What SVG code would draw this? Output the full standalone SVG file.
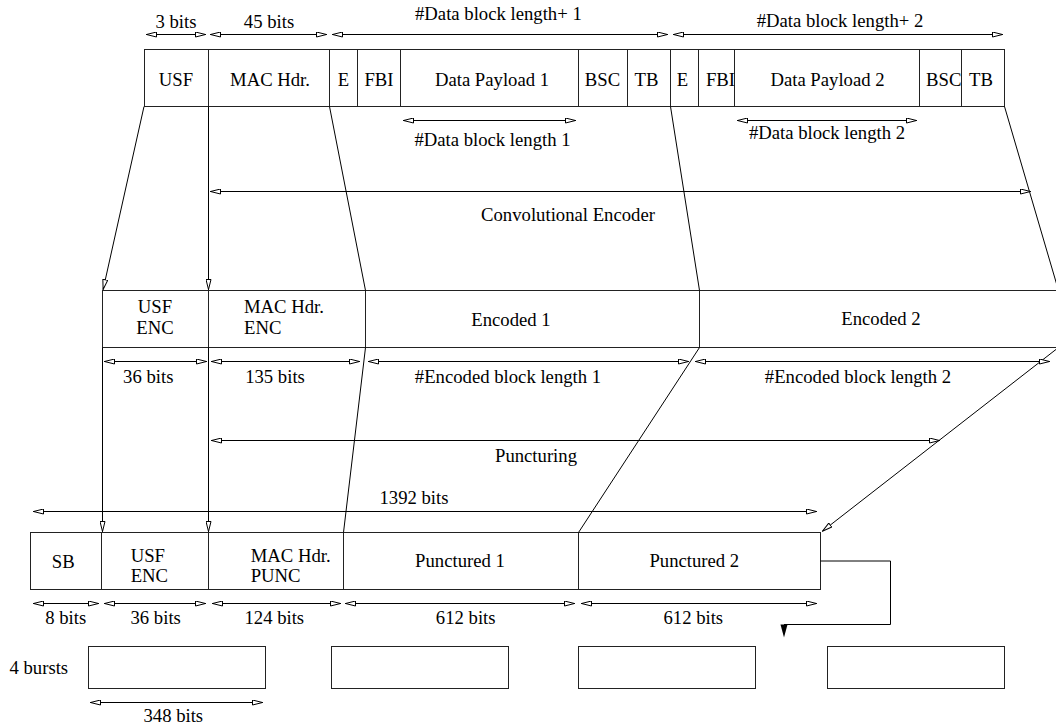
<svg xmlns="http://www.w3.org/2000/svg" width="1056" height="726" viewBox="0 0 1056 726">
<style>
text{font-family:"Liberation Serif","Times New Roman",serif;font-size:18.7px;fill:#000}
.c{text-anchor:middle}
.box{fill:#fff;stroke:#222;stroke-width:1}
.div{stroke:#222;stroke-width:1;fill:none}
.ln{stroke:#000;stroke-width:1;fill:none}
.dim{stroke:#000;stroke-width:1;fill:none;marker-start:url(#ah);marker-end:url(#ah)}
.arr{stroke:#000;stroke-width:1;fill:none;marker-end:url(#ah)}
</style>
<defs>
<marker id="ah" viewBox="0 0 11 6" refX="11" refY="3" markerWidth="11" markerHeight="6" markerUnits="userSpaceOnUse" orient="auto-start-reverse">
<path d="M0.5,0.5 L10.5,3 L0.5,5.5 Z" fill="#fff" stroke="#000" stroke-width="1"/>
</marker>
</defs>
<rect width="1056" height="726" fill="#fff"/>

<g id="top-row">
<rect class="box" x="144.5" y="49.5" width="860" height="57"/>
<path class="div" d="M208.5,49.5V106.5M329.5,49.5V106.5M357.5,49.5V106.5M400.5,49.5V106.5M578.5,49.5V106.5M627.5,49.5V106.5M670.5,49.5V106.5M698.5,49.5V106.5M734.5,49.5V106.5M919.5,49.5V106.5M961.5,49.5V106.5"/>
<text class="c" x="176" y="85.5">USF</text>
<text class="c" x="270" y="85.5">MAC Hdr.</text>
<text class="c" x="343.5" y="85.5">E</text>
<text class="c" x="379" y="85.5">FBI</text>
<text class="c" x="492" y="85.5">Data Payload 1</text>
<text class="c" x="602.5" y="85.5">BSC</text>
<text class="c" x="646.5" y="85.5">TB</text>
<text class="c" x="682.5" y="85.5">E</text>
<text class="c" x="720.5" y="85.5">FBI</text>
<text class="c" x="827.5" y="85.5">Data Payload 2</text>
<text class="c" x="943.7" y="85.5">BSC</text>
<text class="c" x="981" y="85.5">TB</text>
</g>

<g id="middle-row">
<rect class="box" x="102.5" y="290.5" width="956" height="57"/>
<path class="div" d="M208.5,290.5V347.5M365.5,290.5V347.5M699.5,290.5V347.5"/>
<text class="c" x="155" y="313">USF</text>
<text class="c" x="155" y="334">ENC</text>
<text x="244" y="313">MAC Hdr.</text>
<text x="244" y="334">ENC</text>
<text class="c" x="511" y="326">Encoded 1</text>
<text class="c" x="881" y="325">Encoded 2</text>
</g>

<g id="bottom-row">
<rect class="box" x="30.5" y="532.5" width="790" height="57"/>
<path class="div" d="M101.5,532.5V589.5M208.5,532.5V589.5M343.5,532.5V589.5M578.5,532.5V589.5"/>
<text class="c" x="63.3" y="568">SB</text>
<text x="130.7" y="561.7">USF</text>
<text x="130.7" y="582.3">ENC</text>
<text x="250.7" y="561.7">MAC Hdr.</text>
<text x="250.7" y="582.3">PUNC</text>
<text class="c" x="460" y="567.3">Punctured 1</text>
<text class="c" x="694.3" y="567.3">Punctured 2</text>
</g>

<g id="bursts">
<text class="c" x="38.8" y="674">4 bursts</text>
<rect class="box" x="88.5" y="646.5" width="177" height="42"/>
<rect class="box" x="331.5" y="646.5" width="177" height="42"/>
<rect class="box" x="578.5" y="646.5" width="177" height="42"/>
<rect class="box" x="827.5" y="646.5" width="177" height="42"/>
</g>

<g id="connectors">
<path class="arr" d="M144,106.5L103,290"/>
<path class="arr" d="M208.5,106.5V290"/>
<path class="ln" d="M329.5,106.5L365.5,290.5"/>
<path class="ln" d="M670.5,106.5L699.5,290.5"/>
<path class="ln" d="M1004.5,106.5L1058.5,290.5"/>
<path class="arr" d="M102.5,347.5V532"/>
<path class="arr" d="M208.5,347.5V532"/>
<path class="ln" d="M365.5,347.5L343.5,532.5"/>
<path class="ln" d="M699.5,347.5L578.5,532.5"/>
<path class="arr" d="M1058.5,347.5L822,531.5"/>
<path class="ln" d="M820.5,561H890.5V624.5H784"/>
<path d="M780.5,624.5H787.5L784,637.5Z" fill="#000"/>
</g>

<g id="dimensions">
<path class="dim" d="M146,34.5H206"/>
<path class="dim" d="M210,34.5H327"/>
<path class="dim" d="M332,34.5H668"/>
<path class="dim" d="M673,34.5H1003"/>
<path class="dim" d="M403,120.5H576"/>
<path class="dim" d="M737,120.5H917"/>
<path class="dim" d="M210,191.5H1031"/>
<path class="dim" d="M104,361.5H207"/>
<path class="dim" d="M211,361.5H360"/>
<path class="dim" d="M368,361.5H689"/>
<path class="dim" d="M695,361.5H1050"/>
<path class="dim" d="M211,440.5H940"/>
<path class="dim" d="M33,511.5H817"/>
<path class="dim" d="M33,603.5H99"/>
<path class="dim" d="M104,603.5H206"/>
<path class="dim" d="M212,603.5H341"/>
<path class="dim" d="M345,603.5H575"/>
<path class="dim" d="M581,603.5H817"/>
<path class="dim" d="M90,702.5H263"/>
<text class="c" x="176" y="28">3 bits</text>
<text class="c" x="269" y="28">45 bits</text>
<text class="c" x="498.4" y="20">#Data block length+ 1</text>
<text class="c" x="840" y="27">#Data block length+ 2</text>
<text class="c" x="492.5" y="146">#Data block length 1</text>
<text class="c" x="827" y="139">#Data block length 2</text>
<text class="c" x="568" y="221">Convolutional Encoder</text>
<text class="c" x="148.3" y="382.5">36 bits</text>
<text class="c" x="275" y="382.5">135 bits</text>
<text class="c" x="508" y="382.5">#Encoded block length 1</text>
<text class="c" x="858" y="382.5">#Encoded block length 2</text>
<text class="c" x="536" y="462">Puncturing</text>
<text class="c" x="414" y="504">1392 bits</text>
<text class="c" x="65.7" y="624">8 bits</text>
<text class="c" x="155.7" y="624">36 bits</text>
<text class="c" x="274.3" y="624">124 bits</text>
<text class="c" x="465.7" y="624">612 bits</text>
<text class="c" x="693.3" y="624">612 bits</text>
<text class="c" x="173.3" y="722">348 bits</text>
</g>
</svg>
